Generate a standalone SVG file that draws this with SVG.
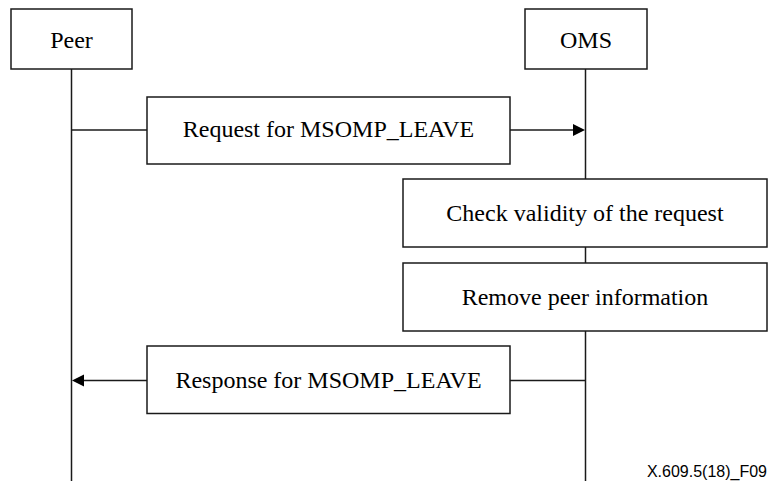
<svg xmlns="http://www.w3.org/2000/svg" width="769" height="481" viewBox="0 0 769 481">
<style>
.box{fill:#fff;stroke:#1a1a1a;stroke-width:1.5}
.ln{fill:none;stroke:#1a1a1a;stroke-width:1.5}
.ah{fill:#000}
.t{font-family:"Liberation Serif","Times New Roman",serif;font-size:24px;fill:#000;text-anchor:middle}
.f{font-family:"Liberation Sans",Arial,sans-serif;font-size:16px;fill:#000;text-anchor:end}
</style>
<rect width="769" height="481" fill="#fff"/>
<g id="connectors">
<line class="ln" x1="71.5" y1="69" x2="71.5" y2="481"/>
<line class="ln" x1="585.5" y1="69" x2="585.5" y2="481"/>
<line class="ln" x1="71.5" y1="130" x2="147" y2="130"/>
<line class="ln" x1="510" y1="130" x2="574" y2="130"/>
<polygon class="ah" points="585,130 573,124 573,136"/>
<line class="ln" x1="510" y1="380.5" x2="585.5" y2="380.5"/>
<line class="ln" x1="83" y1="380.5" x2="147" y2="380.5"/>
<polygon class="ah" points="72,380.5 84,374.5 84,386.5"/>
</g>
<g id="peer">
<rect class="box" x="11" y="9" width="121" height="60"/>
<text class="t" x="71.5" y="47.5">Peer</text>
</g>
<g id="oms">
<rect class="box" x="525" y="9" width="122" height="60"/>
<text class="t" x="586" y="47.5">OMS</text>
</g>
<g id="request">
<rect class="box" x="147" y="97" width="363" height="67"/>
<text class="t" x="328.5" y="137">Request for MSOMP_LEAVE</text>
</g>
<g id="check">
<rect class="box" x="403" y="179" width="364" height="68"/>
<text class="t" x="585" y="220.5">Check validity of the request</text>
</g>
<g id="remove">
<rect class="box" x="403" y="263" width="364" height="68"/>
<text class="t" x="585" y="304.5">Remove peer information</text>
</g>
<g id="response">
<rect class="box" x="147" y="346" width="363" height="67.5"/>
<text class="t" x="328.5" y="387.5">Response for MSOMP_LEAVE</text>
</g>
<text class="f" x="767" y="477">X.609.5(18)_F09</text>
</svg>
